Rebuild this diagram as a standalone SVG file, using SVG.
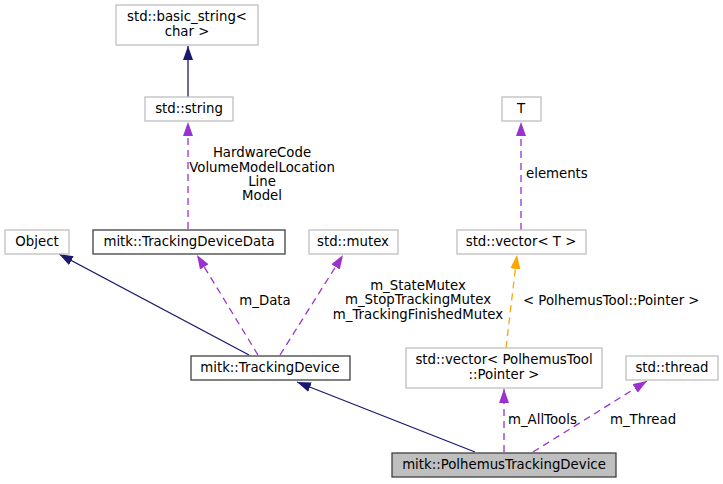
<svg xmlns="http://www.w3.org/2000/svg" width="723" height="484" viewBox="0 0 723 484">
<style>
text{font-family:"DejaVu Sans",sans-serif;font-size:13.3px;fill:#000}
.n text{text-anchor:middle}
.ext rect{fill:#fff;stroke:#bfbfbf;stroke-width:1.3}
.doc rect{fill:#fff;stroke:#404040;stroke-width:1.3}
.cur rect{fill:#bfbfbf;stroke:#404040;stroke-width:1.3}
.inh{fill:none;stroke:#191970;stroke-width:1.3;marker-end:url(#aN)}
.use{fill:none;stroke:#9a32cd;stroke-width:1.3;stroke-dasharray:7,5;marker-end:url(#aP)}
.tpl{fill:none;stroke:#ffa500;stroke-width:1.3;stroke-dasharray:7,5;marker-end:url(#aO)}
.lbl{text-anchor:middle}
</style>
<defs>
<marker id="aN" markerUnits="userSpaceOnUse" markerWidth="15" markerHeight="11" refX="14" refY="5.5" orient="auto"><path d="M0,0.5 L14,5.5 L0,10.5 z" fill="#191970"/></marker>
<marker id="aP" markerUnits="userSpaceOnUse" markerWidth="15" markerHeight="11" refX="14" refY="5.5" orient="auto"><path d="M0,0.5 L14,5.5 L0,10.5 z" fill="#9a32cd"/></marker>
<marker id="aO" markerUnits="userSpaceOnUse" markerWidth="15" markerHeight="11" refX="14" refY="5.5" orient="auto"><path d="M0,0.5 L14,5.5 L0,10.5 z" fill="#ffa500"/></marker>
</defs>
<g id="edges">
<path class="inh" d="M188,97 L188,46"/>
<path class="use" d="M188,229 L188,122"/>
<path class="inh" d="M249,355 L59,254"/>
<path class="use" d="M258,355 L197,255"/>
<path class="use" d="M280,355 L343,255"/>
<path class="inh" d="M475,452 L297,382"/>
<path class="use" d="M504,452 L504,389"/>
<path class="use" d="M533,452 L647,381"/>
<path class="tpl" d="M506,348 L517,255"/>
<path class="use" d="M521,230 L521,122"/>
<text class="lbl" x="262" y="157">HardwareCode</text>
<text class="lbl" x="262" y="172">VolumeModelLocation</text>
<text class="lbl" x="262" y="186">Line</text>
<text class="lbl" x="262" y="200">Model</text>
<text class="lbl" x="265" y="305">m_Data</text>
<text class="lbl" x="418" y="290">m_StateMutex</text>
<text class="lbl" x="418" y="304">m_StopTrackingMutex</text>
<text class="lbl" x="418" y="319">m_TrackingFinishedMutex</text>
<text x="526" y="178">elements</text>
<text x="523" y="305">&lt; PolhemusTool::Pointer &gt;</text>
<text x="508" y="424">m_AllTools</text>
<text x="610" y="424">m_Thread</text>
</g>
<g id="basic_string" class="n ext"><rect x="116" y="5" width="142" height="40"/><text x="187" y="21">std::basic_string&lt;</text><text x="187" y="36">char &gt;</text></g>
<g id="string" class="n ext"><rect x="145" y="97" width="88" height="24"/><text x="189" y="113">std::string</text></g>
<g id="Object" class="n ext"><rect x="5" y="230" width="64" height="24"/><text x="37" y="246">Object</text></g>
<g id="TrackingDeviceData" class="n doc"><rect x="93" y="230" width="192" height="24"/><text x="189" y="246">mitk::TrackingDeviceData</text></g>
<g id="mutex" class="n ext"><rect x="309" y="230" width="89" height="24"/><text x="353" y="246">std::mutex</text></g>
<g id="T" class="n ext"><rect x="502" y="97" width="39" height="24"/><text x="521" y="113">T</text></g>
<g id="vectorT" class="n ext"><rect x="457" y="230" width="129" height="24"/><text x="521" y="246">std::vector&lt; T &gt;</text></g>
<g id="TrackingDevice" class="n doc"><rect x="191" y="356" width="159" height="24"/><text x="270" y="372">mitk::TrackingDevice</text></g>
<g id="vectorPT" class="n ext"><rect x="406" y="348" width="196" height="40"/><text x="504" y="364">std::vector&lt; PolhemusTool</text><text x="504" y="379">::Pointer &gt;</text></g>
<g id="thread" class="n ext"><rect x="626" y="356" width="92" height="24"/><text x="672" y="372">std::thread</text></g>
<g id="PolhemusTrackingDevice" class="n cur"><rect x="392" y="453" width="224" height="24"/><text x="504" y="469">mitk::PolhemusTrackingDevice</text></g>
</svg>
